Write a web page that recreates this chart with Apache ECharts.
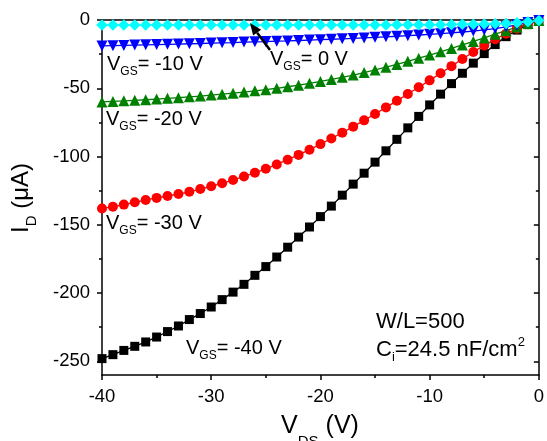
<!DOCTYPE html>
<html>
<head>
<meta charset="utf-8">
<script src="https://cdn.jsdelivr.net/npm/echarts@6/dist/echarts.min.js"></script>
<style>
html,body{margin:0;padding:0;background:#fff;}
#chart{width:547px;height:441px;}
</style>
</head>
<body>
<div id="chart"></div>
<script>
// ---- data ----
const vds = [-40,-39,-38,-37,-36,-35,-34,-33,-32,-31,-30,-29,-28,-27,-26,-25,-24,-23,-22,-21,-20,
             -19,-18,-17,-16,-15,-14,-13,-12,-11,-10,-9,-8,-7,-6,-5,-4,-3,-2,-1,0];
const id_vgs_m40 = [-248.0,-245.1,-242.0,-239.0,-235.8,-232.2,-228.2,-224.1,-219.4,-215.0,-210.2,
                    -204.8,-199.3,-193.6,-187.0,-180.6,-173.6,-166.4,-159.0,-151.6,-144.0,
                    -136.3,-128.3,-120.2,-112.2,-104.1,-95.8,-87.4,-79.0,-70.6,-62.2,
                    -54.3,-46.6,-39.0,-31.6,-24.6,-18.0,-12.2,-7.4,-3.4,-0.5];
const id_vgs_m30 = [-138.0,-136.8,-135.2,-133.5,-131.8,-130.3,-128.9,-127.5,-125.8,-123.8,-121.8,
                    -119.5,-117.2,-114.6,-111.9,-109.0,-105.8,-102.3,-98.8,-95.0,-90.9,
                    -86.8,-82.5,-78.1,-73.5,-68.8,-64.0,-59.2,-54.2,-49.2,-44.2,
                    -39.0,-33.8,-28.6,-23.4,-18.6,-14.1,-10.0,-6.4,-3.1,-0.5];
const id_vgs_m20 = [-60.0,-59.6,-59.2,-58.8,-58.4,-57.9,-57.4,-56.9,-56.3,-55.7,-55.0,
                    -54.3,-53.6,-52.8,-51.9,-51.0,-50.0,-48.9,-47.7,-46.4,-45.0,
                    -43.5,-42.0,-40.3,-38.5,-36.6,-34.6,-32.5,-30.3,-28.0,-25.7,
                    -23.3,-20.8,-18.3,-15.7,-13.1,-10.4,-7.8,-5.2,-2.6,-0.3];
const id_vgs_m10 = [-19.0,-18.8,-18.6,-18.4,-18.2,-18.0,-17.8,-17.6,-17.4,-17.2,-16.9,
                    -16.7,-16.5,-16.2,-16.0,-15.8,-15.5,-15.3,-15.0,-14.7,-14.4,
                    -14.1,-13.8,-13.5,-13.1,-12.7,-12.3,-11.9,-11.5,-11.0,-10.5,
                    -10.0,-9.4,-8.8,-8.1,-7.3,-6.3,-5.0,-3.6,-1.9,-0.3];
const id_vgs_0   = [-3.7,-3.7,-3.7,-3.7,-3.7,-3.7,-3.7,-3.7,-3.7,-3.7,-3.7,
                    -3.7,-3.7,-3.7,-3.7,-3.7,-3.7,-3.7,-3.7,-3.7,-3.7,
                    -3.7,-3.7,-3.6,-3.6,-3.6,-3.6,-3.5,-3.5,-3.5,-3.4,
                    -3.4,-3.3,-3.2,-3.1,-3.0,-2.8,-2.5,-2.0,-1.3,-0.3];
const xTickInterval = 10;
const yMajorTicks = [-250,-200,-150,-100,-50,0];
const yMinorTicks = [-225,-175,-125,-75,-25];

const FONT = '"Liberation Sans", Arial, sans-serif';
const pairs = ys => vds.map((x, i) => [x, ys[i]]);

function mkSeries(name, ys, color, symbol, size, rotate) {
  return {
    name, type: 'line', data: pairs(ys), clip: false,
    symbol, symbolSize: size, symbolRotate: rotate || 0, showSymbol: true,
    itemStyle: { color: color, borderWidth: 0 },
    lineStyle: { color: color, width: 1.3 },
    emphasis: { disabled: true }, animation: false
  };
}

const axisLineStyle = { color: '#000', width: 1.5 };
const yCommon = { type: 'value', min: -260, max: 0, splitLine: { show: false } };

const chart = echarts.init(document.getElementById('chart'), null, { renderer: 'canvas' });

const subRich = (fs, sfs, lh) => ({
  m: { fontSize: fs, lineHeight: lh, fontFamily: FONT, color: '#000' },
  s: { fontSize: sfs, lineHeight: sfs, verticalAlign: 'bottom', fontFamily: FONT, color: '#000' },
  u: { fontSize: sfs, lineHeight: sfs + 3, verticalAlign: 'top', fontFamily: FONT, color: '#000' }
});

function label(x, y, txt, fs, sfs, lh) {
  return {
    type: 'text', x: x, y: y, z: 100,
    style: { text: txt, rich: subRich(fs, sfs, lh), align: 'left', verticalAlign: 'middle', fill: '#000' }
  };
}

// arrow
const tail = [270, 50], tip = [250, 23];
const dx = tip[0] - tail[0], dy = tip[1] - tail[1];
const L = Math.hypot(dx, dy), ux = dx / L, uy = dy / L;
const hl = 12, hw = 5;
const bx = tip[0] - ux * hl, by = tip[1] - uy * hl;

chart.setOption({
  animation: false,
  backgroundColor: '#fff',
  grid: { left: 102, right: 8, top: 20, bottom: 66, containLabel: false },
  xAxis: [
    { type: 'value', position: 'bottom', min: -40, max: 0, interval: xTickInterval,
      axisLine: { onZero: false, lineStyle: axisLineStyle },
      axisTick: { length: 5, lineStyle: { width: 1.5, color: '#000' } },
      minorTick: { show: true, splitNumber: 2, length: 3, lineStyle: { width: 1.5, color: '#000' } },
      axisLabel: { fontSize: 18.5, color: '#000', fontFamily: FONT, margin: 12 },
      splitLine: { show: false }, minorSplitLine: { show: false } },
    { type: 'value', position: 'top', min: -40, max: 0, interval: xTickInterval,
      axisLine: { onZero: false, lineStyle: axisLineStyle },
      axisTick: { inside: true, length: 5, lineStyle: { width: 1.5, color: '#000' } },
      minorTick: { show: true, splitNumber: 2, length: 3, lineStyle: { width: 1.5, color: '#000' } },
      axisLabel: { show: false }, splitLine: { show: false }, minorSplitLine: { show: false } }
  ],
  yAxis: [
    Object.assign({}, yCommon, { position: 'left',
      axisLine: { show: true, onZero: false, lineStyle: axisLineStyle },
      axisTick: { show: true, length: 5, customValues: yMajorTicks, lineStyle: { width: 1.5, color: '#000' } },
      axisLabel: { customValues: yMajorTicks, fontSize: 18.5, color: '#000', fontFamily: FONT, margin: 12 } }),
    Object.assign({}, yCommon, { position: 'left',
      axisLine: { show: false, onZero: false },
      axisTick: { show: true, length: 3, customValues: yMinorTicks, lineStyle: { width: 1.5, color: '#000' } },
      axisLabel: { show: false } }),
    Object.assign({}, yCommon, { position: 'right',
      axisLine: { show: true, onZero: false, lineStyle: axisLineStyle },
      axisTick: { show: true, inside: true, length: 5, customValues: yMajorTicks, lineStyle: { width: 1.5, color: '#000' } },
      axisLabel: { show: false } }),
    Object.assign({}, yCommon, { position: 'right',
      axisLine: { show: false, onZero: false },
      axisTick: { show: true, inside: true, length: 3, customValues: yMinorTicks, lineStyle: { width: 1.5, color: '#000' } },
      axisLabel: { show: false } })
  ],
  series: [
    mkSeries('VGS=-40 V', id_vgs_m40, '#000000', 'rect', 9),
    mkSeries('VGS=-30 V', id_vgs_m30, '#FF0000', 'circle', 10),
    mkSeries('VGS=-20 V', id_vgs_m20, '#008000', 'triangle', 11),
    mkSeries('VGS=-10 V', id_vgs_m10, '#0000FF', 'triangle', 11, 180),
    mkSeries('VGS=0 V', id_vgs_0, '#00FFFF', 'diamond', 11.5)
  ],
  graphic: [
    label(107, 64, '{m|V}{s|GS}{m|= -10 V}', 20, 12, 28),
    label(270, 59, '{m|V}{s|GS}{m|= 0 V}', 20, 12, 28),
    label(106, 119, '{m|V}{s|GS}{m|= -20 V}', 20, 12, 28),
    label(106, 223, '{m|V}{s|GS}{m|= -30 V}', 20, 12, 28),
    label(186, 348, '{m|V}{s|GS}{m|= -40 V}', 20, 12, 28),
    label(376, 322, '{m|W/L=500}', 22, 13, 28),
    label(376, 350, '{m|C}{s|i}{m|=24.5 nF/cm}{u|2}', 22, 13, 28),
    { type: 'text', x: 320, y: 426, z: 100,
      style: { text: '{m|V}{s|DS}{m| (V)}', rich: subRich(25, 15, 47), align: 'center', verticalAlign: 'middle' } },
    { type: 'text', x: 21, y: 198, rotation: Math.PI / 2, z: 100,
      style: { text: '{m|I}{s|D}{m| (μA)}', rich: subRich(24, 15, 36), align: 'center', verticalAlign: 'middle' } },
    { type: 'line', z: 100, shape: { x1: tail[0], y1: tail[1], x2: bx, y2: by },
      style: { stroke: '#000', lineWidth: 2.5 } },
    { type: 'polygon', z: 100,
      shape: { points: [[tip[0], tip[1]], [bx + (-uy) * hw, by + ux * hw], [bx - (-uy) * hw, by - ux * hw]] },
      style: { fill: '#000' } }
  ]
});
</script>
</body>
</html>
